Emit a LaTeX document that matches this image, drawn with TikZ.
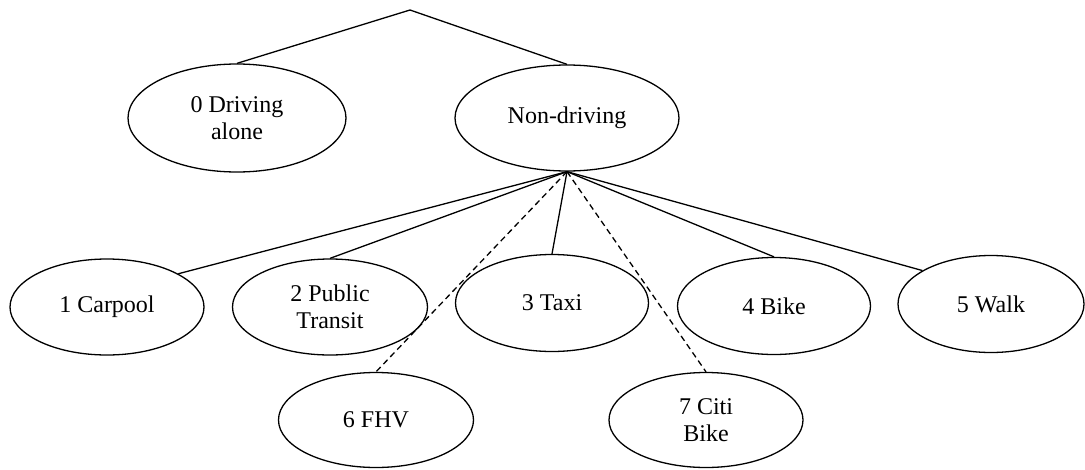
\documentclass[tikz,border=0pt]{standalone}
\usepackage{fontspec}
\setmainfont{Liberation Serif}
\usetikzlibrary{shapes.geometric}

\tikzset{
  mode/.style={draw, ellipse, line width=1.3pt, inner sep=0pt, align=center,
    font=\fontsize{24}{27.5}\selectfont},
  link/.style={line width=1.3pt},
  altlink/.style={line width=1.3pt, dash pattern=on 6pt off 4pt},
}

\begin{document}
\begin{tikzpicture}[x=1pt, y=-1pt]
  \useasboundingbox (0,0) rectangle (1085,469);

  % upper nest
  \coordinate (root) at (410,10);
  \node[mode, minimum width=218pt, minimum height=108pt] (drive) at (237,118) {0 Driving\\alone};
  \node[mode, minimum width=224pt, minimum height=106pt] (nondrive) at (567,118) {Non-driving};

  % lower nest
  \node[mode, minimum width=194pt, minimum height=96pt] (carpool) at (107,307) {1 Carpool};
  \node[mode, minimum width=195pt, minimum height=96pt] (transit) at (330,307) {2 Public\\Transit};
  \node[mode, minimum width=193pt, minimum height=97pt] (taxi) at (552,303) {3 Taxi};
  \node[mode, minimum width=193pt, minimum height=97pt] (bike) at (774,306) {4 Bike};
  \node[mode, minimum width=186pt, minimum height=97pt] (walk) at (991,304) {5 Walk};
  \node[mode, minimum width=195pt, minimum height=95pt] (fhv) at (376,420) {6 FHV};
  \node[mode, minimum width=194pt, minimum height=95pt] (citi) at (706,420) {7 Citi\\Bike};

  % connectors
  \draw[link] (drive.north) -- (root) -- (nondrive.north);
  \coordinate (hub) at (nondrive.south);
  \draw[link] (hub) -- (carpool.25);
  \draw[link] (hub) -- (transit.north);
  \draw[link] (hub) -- (taxi.north);
  \draw[link] (hub) -- (bike.north);
  \draw[link] (hub) -- (walk.154);
  \draw[altlink] (hub) -- (fhv.north);
  \draw[altlink] (hub) -- (citi.north);
\end{tikzpicture}
\end{document}
